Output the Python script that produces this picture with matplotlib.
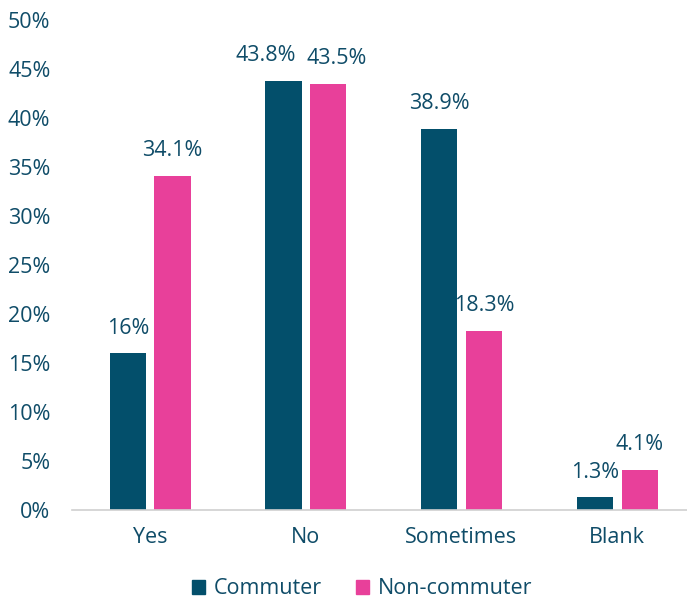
import numpy as np
import matplotlib.pyplot as plt
from matplotlib.patches import Patch

plt.rcParams['font.family'] = ['Open Sans', 'DejaVu Sans']

# survey answers by group (percent)
categories = ['Yes', 'No', 'Sometimes', 'Blank']
commuter = [16.0, 43.8, 38.9, 1.3]
non_commuter = [34.1, 43.5, 18.3, 4.1]
commuter_labels = ['16%', '43.8%', '38.9%', '1.3%']
non_commuter_labels = ['34.1%', '43.5%', '18.3%', '4.1%']

teal = '#034f6b'
pink = '#e8409a'
text_col = '#0f4c68'
fs = 15.5

fig = plt.figure(figsize=(6.87, 6.01), dpi=100)
# axes runs a little past the right edge of the figure
ax = fig.add_axes([72 / 687, 91 / 601, 623 / 687, 490 / 601])

x = np.arange(len(categories))
w = 0.232
b1 = ax.bar(x - 0.142, commuter, w, color=teal)
b2 = ax.bar(x + 0.145, non_commuter, w, color=pink)

# the two "No" labels are nudged apart so they don't collide
nudge1 = [0, -13, 0, 0]
nudge2 = [0, 6, 0, 0]
for bars, labels, nudge in ((b1, commuter_labels, nudge1), (b2, non_commuter_labels, nudge2)):
    for rect, lab, dx in zip(bars, labels, nudge):
        ax.annotate(lab, (rect.get_x() + rect.get_width() / 2, rect.get_height()),
                    xytext=(dx, 10.5), textcoords='offset points',
                    ha='center', va='bottom', fontsize=fs, color=text_col)

ax.set_xlim(-0.5, 3.5)
ax.set_ylim(0, 50)
ax.set_yticks(np.arange(0, 51, 5))
ax.set_yticklabels([f'{v}%' for v in range(0, 51, 5)])
ax.set_xticks(x)
ax.set_xticklabels(categories)
ax.tick_params(axis='both', length=0, labelsize=fs, colors=text_col)
ax.tick_params(axis='y', pad=15.5)
ax.tick_params(axis='x', pad=12)

for side in ('top', 'right', 'left'):
    ax.spines[side].set_visible(False)
ax.spines['bottom'].set_color('#d0d0d0')
ax.spines['bottom'].set_linewidth(1.2)

handles = [Patch(color=teal, label='Commuter'), Patch(color=pink, label='Non-commuter')]
fig.legend(handles=handles, loc='center', bbox_to_anchor=(362 / 687, 12 / 601),
           ncol=2, frameon=False, fontsize=fs, labelcolor=text_col,
           handlelength=0.6, handleheight=0.6, handletextpad=0.4, columnspacing=1.6)

fig.savefig('out.png', dpi=100)
